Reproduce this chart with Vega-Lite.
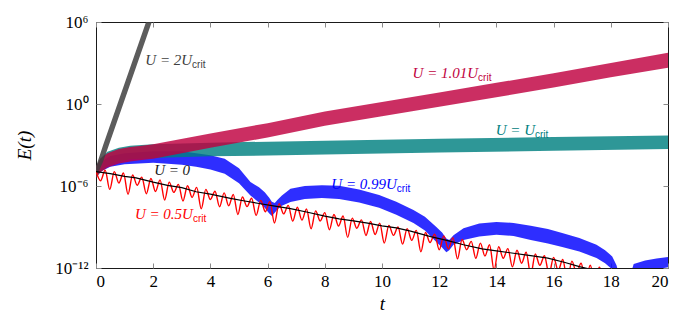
{
"$schema": "https://vega.github.io/schema/vega-lite/v6.json",
"width": 572, "height": 246,
"autosize": {"type": "none"},
"padding": {"left": 96, "top": 22, "right": 25, "bottom": 57},
"background": "white",
"config": {
  "view": {"stroke": "#1a1a1a", "strokeWidth": 1},
  "axis": {"domain": false, "grid": false, "labelFont": "Liberation Serif", "labelFontSize": 17, "labelColor": "#000", "tickColor": "#8a8a8a", "tickWidth": 1, "titleFont": "Liberation Serif", "titleFontStyle": "italic", "titleFontWeight": "normal", "titleFontSize": 19, "titleColor": "#000"}
},
"datasets": {
  "blue": [
    {"t":0,"v":-5.3,"v2":-4.8},{"t":0.2,"v":-4.9,"v2":-4.2},{"t":0.5,"v":-4.6,"v2":-3.8},{"t":1,"v":-4.4,"v2":-3.6},{"t":2,"v":-4.3,"v2":-3.45},{"t":3,"v":-4.45,"v2":-3.45},{"t":3.5,"v":-4.6,"v2":-3.6},{"t":4,"v":-4.8,"v2":-3.75},{"t":4.5,"v":-5.1,"v2":-4.0},{"t":5,"v":-5.8,"v2":-4.7},{"t":5.4,"v":-6.7,"v2":-5.7},{"t":5.7,"v":-7.2,"v2":-6.1},{"t":5.9,"v":-7.6,"v2":-6.45},{"t":6.05,"v":-8.0,"v2":-6.85},{"t":6.15,"v":-8.2,"v2":-7.15},{"t":6.25,"v":-7.95,"v2":-7.25},{"t":6.35,"v":-7.7,"v2":-7.0},{"t":6.5,"v":-7.45,"v2":-6.7},{"t":6.8,"v":-7.17,"v2":-6.2},{"t":7.3,"v":-6.95,"v2":-6.0},{"t":7.9,"v":-6.87,"v2":-5.95},{"t":8.5,"v":-6.95,"v2":-5.98},{"t":9.2,"v":-7.2,"v2":-6.25},{"t":9.9,"v":-7.6,"v2":-6.66},{"t":10.5,"v":-8.1,"v2":-7.15},{"t":11.1,"v":-8.7,"v2":-7.75},{"t":11.5,"v":-9.25,"v2":-8.25},{"t":11.9,"v":-10.1,"v2":-9.0},{"t":12.1,"v":-10.5,"v2":-9.4},{"t":12.25,"v":-10.85,"v2":-9.85},{"t":12.35,"v":-10.7,"v2":-9.95},{"t":12.5,"v":-10.3,"v2":-9.6},{"t":12.85,"v":-9.95,"v2":-9.1},{"t":13.4,"v":-9.7,"v2":-8.75},{"t":14,"v":-9.56,"v2":-8.63},{"t":14.6,"v":-9.65,"v2":-8.7},{"t":15.2,"v":-9.95,"v2":-8.9},{"t":15.8,"v":-10.2,"v2":-9.15},{"t":16.3,"v":-10.46,"v2":-9.43},{"t":16.9,"v":-10.8,"v2":-9.8},{"t":17.5,"v":-11.26,"v2":-10.3},{"t":17.8,"v":-11.65,"v2":-10.7},{"t":18.05,"v":-12.1,"v2":-11.15},{"t":18.2,"v":-12.6,"v2":-11.8},{"t":18.3,"v":-13.5,"v2":-12.6},{"t":18.5,"v":-14.5,"v2":-13.5},{"t":18.7,"v":-13.5,"v2":-12.4},{"t":18.8,"v":-12.9,"v2":-11.7},{"t":19.2,"v":-12.4,"v2":-11.45},{"t":19.6,"v":-12.1,"v2":-11.3},{"t":20,"v":-11.95,"v2":-11.2}
  ],
  "teal": [
    {"t":0,"v":-5.4,"v2":-4.6},{"t":0.15,"v":-5.0,"v2":-4.0},{"t":0.4,"v":-4.5,"v2":-3.5},{"t":0.8,"v":-4.2,"v2":-3.2},{"t":1.2,"v":-4.05,"v2":-3.05},{"t":2,"v":-3.95,"v2":-2.95},{"t":4,"v":-3.83,"v2":-2.83},{"t":8,"v":-3.7,"v2":-2.68},{"t":12,"v":-3.55,"v2":-2.55},{"t":16,"v":-3.42,"v2":-2.42},{"t":20,"v":-3.3,"v2":-2.3}
  ],
  "crimson": [
    {"t":0,"v":-5.4,"v2":-4.6},{"t":0.15,"v":-5.0,"v2":-4.0},{"t":0.4,"v":-4.65,"v2":-3.6},{"t":0.8,"v":-4.35,"v2":-3.3},{"t":1.2,"v":-4.2,"v2":-3.15},{"t":1.6,"v":-4.1,"v2":-3.05},{"t":2,"v":-4.0,"v2":-2.95},{"t":4,"v":-3.2,"v2":-2.15},{"t":6,"v":-2.45,"v2":-1.4},{"t":8,"v":-1.6,"v2":-0.55},{"t":10,"v":-0.9,"v2":0.15},{"t":12,"v":-0.2,"v2":0.85},{"t":14,"v":0.5,"v2":1.55},{"t":16,"v":1.2,"v2":2.25},{"t":18,"v":1.95,"v2":3.0},{"t":20,"v":2.65,"v2":3.75}
  ],
  "gray": [
    {"t":0,"v":-5.4,"v2":-4.6},{"t":0.25,"v":-4.2,"v2":-3.0},{"t":0.5,"v":-2.7,"v2":-1.5},{"t":0.75,"v":-1.2,"v2":0.0},{"t":1.0,"v":0.3,"v2":1.5},{"t":1.25,"v":1.8,"v2":3.0},{"t":1.5,"v":3.3,"v2":4.5},{"t":1.75,"v":4.8,"v2":6.0},{"t":2.0,"v":6.3,"v2":7.5},{"t":2.2,"v":7.5,"v2":8.7}
  ],
  "red": [
    {"t":0,"v":-4.9},{"t":0.16,"v":-5.62},{"t":0.32,"v":-4.85},{"t":0.48,"v":-6.25},{"t":0.64,"v":-4.95},{"t":0.8,"v":-5.78},{"t":0.96,"v":-5.05},{"t":1.12,"v":-6.61},{"t":1.28,"v":-5.2},{"t":1.44,"v":-5.94},{"t":1.6,"v":-5.35},{"t":1.76,"v":-6.57},{"t":1.92,"v":-5.45},{"t":2.08,"v":-6.4},{"t":2.24,"v":-5.55},{"t":2.4,"v":-7.03},{"t":2.56,"v":-5.72},{"t":2.72,"v":-6.47},{"t":2.88,"v":-5.88},{"t":3.04,"v":-7.1},{"t":3.2,"v":-5.98},{"t":3.36,"v":-6.83},{"t":3.52,"v":-6.1},{"t":3.68,"v":-7.66},{"t":3.84,"v":-6.25},{"t":4.0,"v":-6.99},{"t":4.16,"v":-6.38},{"t":4.32,"v":-7.52},{"t":4.48,"v":-6.5},{"t":4.64,"v":-7.45},{"t":4.8,"v":-6.62},{"t":4.96,"v":-8.08},{"t":5.12,"v":-6.8},{"t":5.28,"v":-7.51},{"t":5.44,"v":-6.9},{"t":5.6,"v":-8.15},{"t":5.76,"v":-7.05},{"t":5.92,"v":-7.88},{"t":6.08,"v":-7.15},{"t":6.24,"v":-8.71},{"t":6.4,"v":-7.3},{"t":6.56,"v":-8.04},{"t":6.72,"v":-7.42},{"t":6.88,"v":-8.57},{"t":7.04,"v":-7.55},{"t":7.2,"v":-8.5},{"t":7.36,"v":-7.68},{"t":7.52,"v":-9.13},{"t":7.68,"v":-7.82},{"t":7.84,"v":-8.56},{"t":8.0,"v":-7.95},{"t":8.16,"v":-9.2},{"t":8.32,"v":-8.08},{"t":8.48,"v":-8.93},{"t":8.64,"v":-8.2},{"t":8.8,"v":-9.76},{"t":8.96,"v":-8.35},{"t":9.12,"v":-9.09},{"t":9.28,"v":-8.48},{"t":9.44,"v":-9.62},{"t":9.6,"v":-8.6},{"t":9.76,"v":-9.55},{"t":9.92,"v":-8.72},{"t":10.08,"v":-10.18},{"t":10.24,"v":-8.88},{"t":10.4,"v":-9.61},{"t":10.56,"v":-9.0},{"t":10.72,"v":-10.25},{"t":10.88,"v":-9.12},{"t":11.04,"v":-9.98},{"t":11.2,"v":-9.25},{"t":11.36,"v":-10.81},{"t":11.52,"v":-9.4},{"t":11.68,"v":-10.14},{"t":11.84,"v":-9.52},{"t":12.0,"v":-10.67},{"t":12.16,"v":-9.65},{"t":12.32,"v":-10.6},{"t":12.48,"v":-9.78},{"t":12.64,"v":-11.33},{"t":12.8,"v":-9.92},{"t":12.96,"v":-10.66},{"t":13.12,"v":-10.05},{"t":13.28,"v":-11.29},{"t":13.44,"v":-10.18},{"t":13.6,"v":-11.13},{"t":13.76,"v":-10.3},{"t":13.92,"v":-12.16},{"t":14.08,"v":-10.45},{"t":14.24,"v":-11.29},{"t":14.4,"v":-10.58},{"t":14.56,"v":-11.92},{"t":14.72,"v":-10.7},{"t":14.88,"v":-11.65},{"t":15.04,"v":-10.85},{"t":15.2,"v":-12.48},{"t":15.36,"v":-10.98},{"t":15.52,"v":-11.81},{"t":15.68,"v":-11.1},{"t":15.84,"v":-12.44},{"t":16.0,"v":-11.22},{"t":16.16,"v":-12.18},{"t":16.32,"v":-11.38},{"t":16.48,"v":-12.91},{"t":16.64,"v":-11.5},{"t":16.8,"v":-12.34},{"t":16.96,"v":-11.65},{"t":17.12,"v":-12.97},{"t":17.28,"v":-11.8},{"t":17.44,"v":-12.9},{"t":17.6,"v":-11.95},{"t":17.76,"v":-13}
  ],
  "black": [
    {"t":0,"v":-4.95},{"t":0.5,"v":-5.1},{"t":1.0,"v":-5.3},{"t":1.4,"v":-5.41},{"t":2.0,"v":-5.72},{"t":2.5,"v":-5.95},{"t":3.0,"v":-6.12},{"t":3.5,"v":-6.42},{"t":4.0,"v":-6.6},{"t":4.7,"v":-6.9},{"t":5.2,"v":-7.1},{"t":5.7,"v":-7.28},{"t":6.2,"v":-7.46},{"t":6.8,"v":-7.66},{"t":7.4,"v":-7.92},{"t":8.0,"v":-8.2},{"t":8.5,"v":-8.4},{"t":9.0,"v":-8.55},{"t":9.5,"v":-8.72},{"t":10.0,"v":-8.92},{"t":10.5,"v":-9.07},{"t":11.0,"v":-9.3},{"t":11.7,"v":-9.7},{"t":12.3,"v":-10.0},{"t":12.85,"v":-10.3},{"t":13.5,"v":-10.6},{"t":14.0,"v":-10.75},{"t":14.6,"v":-10.92},{"t":15.2,"v":-11.1},{"t":15.8,"v":-11.28},{"t":16.4,"v":-11.6},{"t":16.9,"v":-11.9},{"t":17.3,"v":-12.1}
  ],
  "labels": [
    {"s":"2","t":3.36,"v":2.85,"main":"U = 2U","sub":"crit"},
    {"s":"1.01","t":13.36,"v":1.9,"main":"U = 1.01U","sub":"crit"},
    {"s":"1","t":15.35,"v":-2.27,"main":"U = U","sub":"crit"},
    {"s":"0.99","t":10.52,"v":-6.22,"main":"U = 0.99U","sub":"crit"},
    {"s":"0","t":3.29,"v":-5.2,"main":"U = 0","sub":""},
    {"s":"0.5","t":3.39,"v":-8.45,"main":"U = 0.5U","sub":"crit"}
  ]
},
"layer": [
  {
    "encoding": {
      "x": {"field": "t", "type": "quantitative", "scale": {"domain": [0, 20], "nice": false, "zero": false},
            "axis": {"values": [0,2,4,6,8,10,12,14,16,18,20], "tickSize": -5, "labelPadding": 10, "title": "t", "titlePadding": 5}},
      "y": {"field": "v", "type": "quantitative", "scale": {"domain": [-12, 6], "nice": false, "zero": false},
            "axis": {"values": [-12,-6,0,6], "tickSize": -5, "labelPadding": 13, "title": "E(t)", "titlePadding": 20,
                     "labelExpr": "datum.value == 6 ? '10⁶' : datum.value == 0 ? '10⁰' : datum.value == -6 ? '10⁻⁶' : '10⁻¹²'"}}
    },
    "layer": [
      {"data": {"name": "blue"}, "mark": {"type": "area", "color": "#0000ff", "opacity": 0.82, "clip": true}, "encoding": {"y2": {"field": "v2"}}},
      {"data": {"name": "teal"}, "mark": {"type": "area", "color": "#008080", "opacity": 0.82, "clip": true}, "encoding": {"y2": {"field": "v2"}}},
      {"data": {"name": "crimson"}, "mark": {"type": "area", "color": "#bf0040", "opacity": 0.82, "clip": true}, "encoding": {"y2": {"field": "v2"}}},
      {"data": {"name": "gray"}, "mark": {"type": "area", "color": "#404040", "opacity": 0.85, "clip": true}, "encoding": {"y2": {"field": "v2"}}},
      {"data": {"name": "red"}, "mark": {"type": "line", "color": "#ff0000", "strokeWidth": 1.4, "interpolate": "monotone", "clip": true}, "encoding": {}},
      {"data": {"name": "black"}, "mark": {"type": "line", "color": "#000000", "strokeWidth": 1.2, "clip": true}, "encoding": {}},
      {"data": {"name": "labels"}, "mark": {"type": "text", "align": "right", "baseline": "alphabetic", "font": "Liberation Serif", "fontStyle": "italic", "fontSize": 15},
       "encoding": {"text": {"field": "main"}, "color": {"field": "s", "type": "nominal", "legend": null, "scale": {"domain": ["2","1.01","1","0.99","0","0.5"], "range": ["#404040","#bf0040","#008080","#0000ff","#1a1a1a","#ff0000"]}}}},
      {"data": {"name": "labels"}, "mark": {"type": "text", "align": "left", "baseline": "alphabetic", "dy": 3, "font": "Liberation Sans", "fontSize": 10},
       "encoding": {"text": {"field": "sub"}, "color": {"field": "s", "type": "nominal", "legend": null, "scale": {"domain": ["2","1.01","1","0.99","0","0.5"], "range": ["#404040","#bf0040","#008080","#0000ff","#1a1a1a","#ff0000"]}}}}
    ]
  },
  {
    "data": {"name": "black"},
    "mark": {"type": "point", "opacity": 0},
    "encoding": {
      "x": {"field": "t", "type": "quantitative", "scale": {"domain": [0, 20], "nice": false, "zero": false},
            "axis": {"orient": "top", "values": [0,2,4,6,8,10,12,14,16,18,20], "labels": false, "tickSize": -5, "title": null}},
      "y": {"field": "v", "type": "quantitative", "scale": {"domain": [-12, 6], "nice": false, "zero": false},
            "axis": {"orient": "right", "values": [-12,-6,0,6], "labels": false, "tickSize": -5, "title": null}}
    }
  }
],
"resolve": {"scale": {"x": "independent", "y": "independent"}}
}
